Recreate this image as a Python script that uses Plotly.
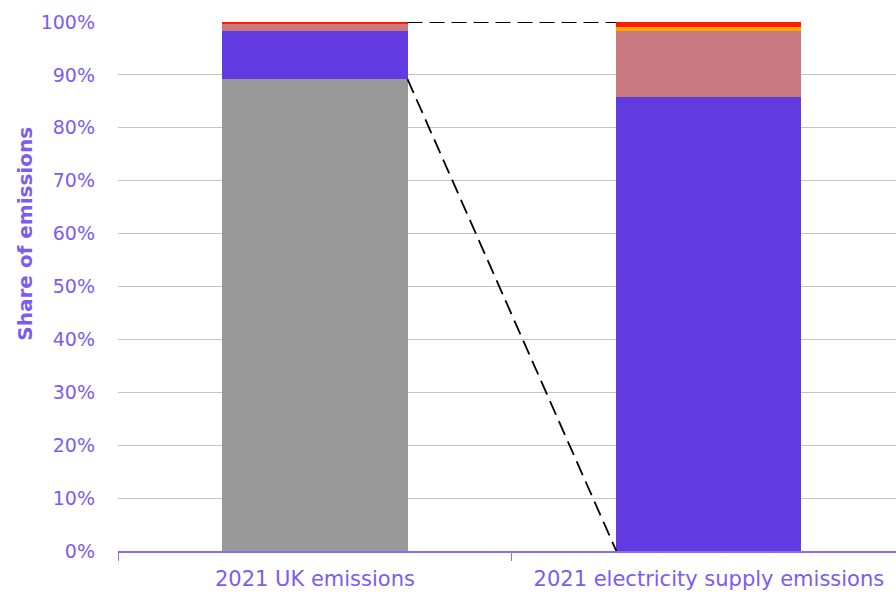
import plotly.graph_objects as go

# Categories and stacked segment shares (percent of total emissions)
categories = ["2021 UK emissions", "2021 electricity supply emissions"]
segment_names = ["Other sectors", "Electricity supply", "Segment C", "Segment D", "Segment E"]
segment_colors = ["#999999", "#623BE0", "#C97880", "#FFA500", "#FF1A00"]
uk_shares = [89.2, 9.15, 1.3, 0.0, 0.35]
electricity_shares = [0.0, 85.9, 12.45, 0.75, 0.9]

y_ticks = [0, 10, 20, 30, 40, 50, 60, 70, 80, 90, 100]

text_purple = "#7B5CF2"
font_family = "'DejaVu Sans', sans-serif"
bar_width = 0.47

fig = go.Figure()
for name, color, a, b in zip(segment_names, segment_colors, uk_shares, electricity_shares):
    fig.add_trace(go.Bar(
        x=categories, y=[a, b], name=name,
        marker=dict(color=color, line=dict(width=0)),
        width=bar_width, showlegend=False,
        hoverinfo="skip",
    ))

# Connector lines from the UK bar to the electricity supply bar
x_left = 0 + bar_width / 2
x_right = 1 - bar_width / 2
connector = dict(color="black", width=1.8, dash="15px,7px")
fig.add_shape(type="line", xref="x", yref="y",
              x0=x_left, y0=sum(uk_shares), x1=x_right, y1=sum(electricity_shares),
              line=connector)
fig.add_shape(type="line", xref="x", yref="y",
              x0=x_left, y0=uk_shares[0], x1=x_right, y1=0,
              line=connector)

# Y-axis title placed as a rotated annotation
fig.add_annotation(
    text="<b>Share of emissions</b>", textangle=-90,
    xref="paper", yref="paper", x=-0.1195, y=0.6,
    xanchor="center", yanchor="middle", showarrow=False,
    font=dict(family=font_family, size=20, color=text_purple),
)

fig.update_layout(
    barmode="stack",
    width=896, height=596,
    margin=dict(l=118, r=0, t=22, b=45),
    plot_bgcolor="white", paper_bgcolor="white",
    font=dict(family=font_family, color=text_purple, size=19),
    xaxis=dict(
        type="category",
        range=[-0.5, 1.475],
        showgrid=False, zeroline=False,
        showline=True, linecolor="#8A6CF0", linewidth=1.5,
        ticks="outside", ticklen=8, tickcolor="#8A6CF0",
        tickson="boundaries",
        ticklabelstandoff=8,
        tickfont=dict(size=21, color=text_purple),
    ),
    yaxis=dict(
        range=[0, 100],
        tickmode="array", tickvals=y_ticks,
        ticktext=[f"{v}%" for v in y_ticks],
        showgrid=True, gridcolor="#C4C4C4", gridwidth=1,
        zeroline=False, showline=False,
        ticks="", ticklabelstandoff=22,
        tickfont=dict(size=19, color=text_purple),
    ),
)

fig.write_html("out.html")
